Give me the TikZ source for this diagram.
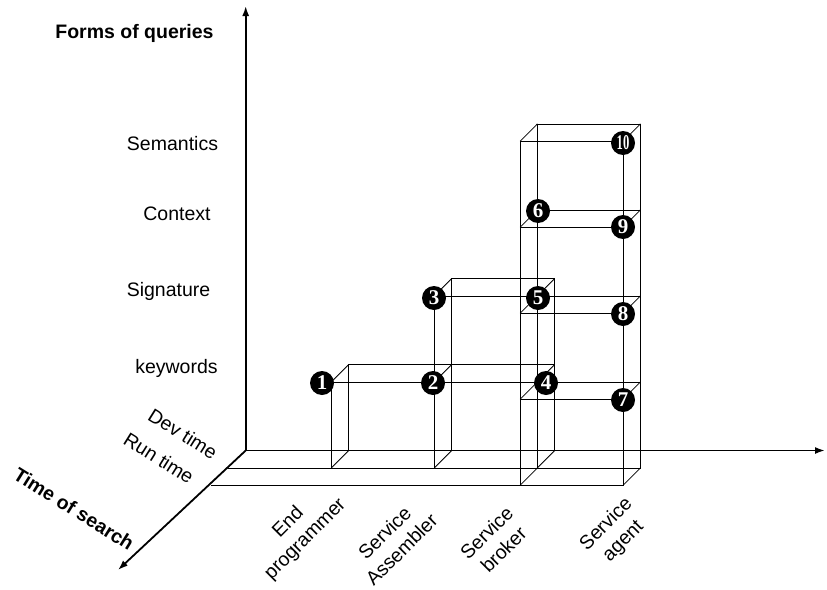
\documentclass[tikz,border=0pt]{standalone}
\usepackage{fontspec}
\setmainfont{Liberation Sans}
\newfontfamily\numfont{Liberation Serif}
\usetikzlibrary{arrows.meta,positioning}

\tikzset{
  axis/.style={line width=1.8pt, -{Latex[length=10pt,width=7pt]}},
  edge/.style={line width=0.8pt},
  level/.style={font=\fontsize{19.5}{23}\selectfont, anchor=base},
  title/.style={font=\fontsize{19.5}{23}\selectfont\bfseries},
  slab/.style={font=\fontsize{19.5}{23}\selectfont, rotate=-32},
  actor/.style={font=\fontsize{19.5}{24}\selectfont, rotate=45, align=center},
  num/.style={circle, fill=black, text=white, inner sep=0pt, minimum size=24pt,
    font=\numfont\fontsize{21}{21}\selectfont\bfseries},
}

\begin{document}
\begin{tikzpicture}[x=1pt, y=1pt]
    \useasboundingbox (0,0) rectangle (827,-589);

    % Boxes (X along actors, height along query forms, z along time of search)
    \begin{scope}[shift={(245.7,-450.5)}, z={(-17.3pt,-17.4pt)}, edge]
        % dev time / run time floor lines
        \draw (0,0,1) -- (412,0,1);
        \draw (0,0,2) -- (412,0,2);

        % End programmer, dev time
        \draw (103,0,0) rectangle (206,86,0);
        \draw (103,0,1) rectangle (206,86,1);
        \draw (103,0,0) -- (103,0,1) (206,0,0) -- (206,0,1)
              (103,86,0) -- (103,86,1) (206,86,0) -- (206,86,1);

        % Service assembler, dev time
        \draw (206,0,0) rectangle (309,172,0);
        \draw (206,0,1) rectangle (309,172,1);
        \draw (206,86,0) -- (309,86,0) (206,86,1) -- (309,86,1);
        \draw (309,0,0) -- (309,0,1) (309,86,0) -- (309,86,1)
              (206,172,0) -- (206,172,1) (309,172,0) -- (309,172,1);

        % Service broker / agent, run time
        \draw (309,0,1) rectangle (412,344,1);
        \draw (309,0,2) rectangle (412,344,2);
        \foreach \h in {0,86,172,258,344} {
            \draw (309,\h,1) -- (309,\h,2) (412,\h,1) -- (412,\h,2);
        }
        \foreach \h in {86,172,258} {
            \draw (309,\h,1) -- (412,\h,1) (309,\h,2) -- (412,\h,2);
        }
    \end{scope}

    % Axes
    \coordinate (origin) at (245.7,-450.5);
    \coordinate (formstip) at (245.7,-6);
    \coordinate (actortip) at (825,-450.5);
    \coordinate (timetip) at (118,-570);
    \draw[axis] (origin) -- (formstip);
    \draw[axis] (origin) -- (actortip);
    \draw[axis] (origin) -- (timetip);

    % Axis titles
    \node[title, anchor=base] (formslbl) at (134.5,-38) {Forms of queries};
    \node[title, rotate=-32] (timelbl) at (74,-509) {Time of search};

    % Forms of queries
    \node[level] (semlbl) at (172.5,-150) {Semantics};
    \node[level] (ctxlbl) at (177,-220) {Context};
    \node[level] (siglbl) at (168.5,-296) {Signature};
    \node[level] (kwlbl) at (176.5,-373) {keywords};

    % Time of search
    \node[slab] (devlbl) at (183,-434) {Dev time};
    \node[slab] (runlbl) at (159,-458) {Run time};

    % Actors
    \node[actor] (endlbl) at (297,-531) {End\\programmer};
    \node[actor] (asmlbl) at (393,-541) {Service\\Assembler};
    \node[actor] (brklbl) at (495,-541) {Service\\broker};
    \node[actor] (agtlbl) at (615,-533) {Service\\agent};

    % Numbered points
    \node[num] (n1) at (322,-383) {1};
    \node[num] (n2) at (433,-383) {2};
    \node[num] (n3) at (434,-298) {3};
    \node[num] (n4) at (546,-383) {4};
    \node[num] (n5) at (538,-298) {5};
    \node[num] (n6) at (538,-211) {6};
    \node[num] (n7) at (623,-400) {7};
    \node[num] (n8) at (623,-314) {8};
    \node[num] (n9) at (623,-227) {9};
    \node[num] (n10) at (623,-143) {\scalebox{0.6}[1]{10}};
\end{tikzpicture}
\end{document}
